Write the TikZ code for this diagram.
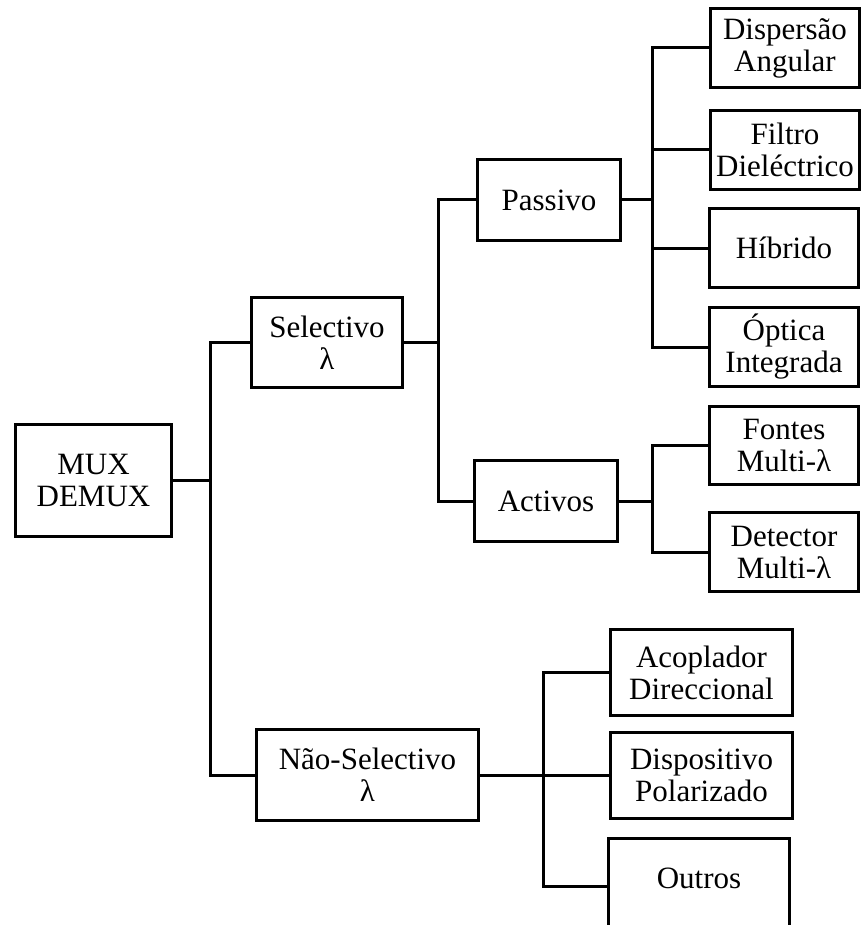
\documentclass[tikz,border=0pt]{standalone}
\usepackage{fontspec}
\setmainfont{Liberation Serif}
\begin{document}
\begin{tikzpicture}[%
    x = 1pt, y = -1pt,
    every node/.style = {font=\fontsize{31}{32}\selectfont},
    box/.style = {draw=black, line width=3pt, align=center, inner sep=0pt,
                  minimum width=149pt, minimum height=78.5pt},
    mid/.style = {box, minimum width=143pt, minimum height=81pt},
    low/.style = {box, minimum width=182pt, minimum height=86pt},
    link/.style = {draw=black, line width=3pt, -}%
  ]
  \useasboundingbox (0,0) rectangle (863,925);

  % root and first level
  \node[box, minimum width=156pt, minimum height=112pt] (mux) at (93.5,480.5) {MUX\\DEMUX};
  \node[box, minimum width=151pt, minimum height=90pt] (sel) at (327,342.5) {Selectivo\\λ};
  \node[box, minimum width=222pt, minimum height=91pt] (nsel) at (367.5,775) {Não-Selectivo\\λ};

  % second level
  \node[mid] (pas) at (549,200) {Passivo};
  \node[mid] (act) at (546,501) {Activos};

  % leaves
  \node[box] (disp) at (785,48)    {Dispersão\\Angular};
  \node[box] (filt) at (785,150)   {Filtro\\Dieléctrico};
  \node[box] (hib)  at (784,248)   {Híbrido};
  \node[box] (opt)  at (784,347)   {Óptica\\Integrada};
  \node[box] (font) at (784,445.5) {Fontes\\Multi-λ};
  \node[box] (det)  at (784,552)   {Detector\\Multi-λ};
  \node[low] (acop) at (701.5,672.5) {Acoplador\\Direccional};
  \node[low] (dpol) at (701.5,775)   {Dispositivo\\Polarizado};
  \node[low, minimum width=181pt, minimum height=96pt,
        text height=21pt, text depth=16pt] (outr) at (699,886) {Outros};

  % junctions
  \coordinate (j0) at (210,480.5);
  \coordinate (j1) at (438,342.5);
  \coordinate (j2) at (652,200);
  \coordinate (j3) at (652,501);
  \coordinate (j4) at (543,775);

  \draw[link] (mux.east) -- (j0);
  \draw[link] (sel.west) -| (j0) |- (nsel.west);

  \draw[link] (sel.east) -- (j1);
  \draw[link] (pas.west) -| (j1) |- (act.west);

  \draw[link] (pas.east) -- (j2);
  \draw[link] (disp.west) -| (j2) |- (opt.west);
  \draw[link] (filt.west) -| (j2);
  \draw[link] (hib.west) -| (j2);

  \draw[link] (act.east) -- (j3);
  \draw[link] (font.west) -| (j3) |- (det.west);

  \draw[link] (nsel.east) -- (j4);
  \draw[link] (acop.west) -| (j4) |- (outr.west);
  \draw[link] (dpol.west) -- (j4);
\end{tikzpicture}
\end{document}
